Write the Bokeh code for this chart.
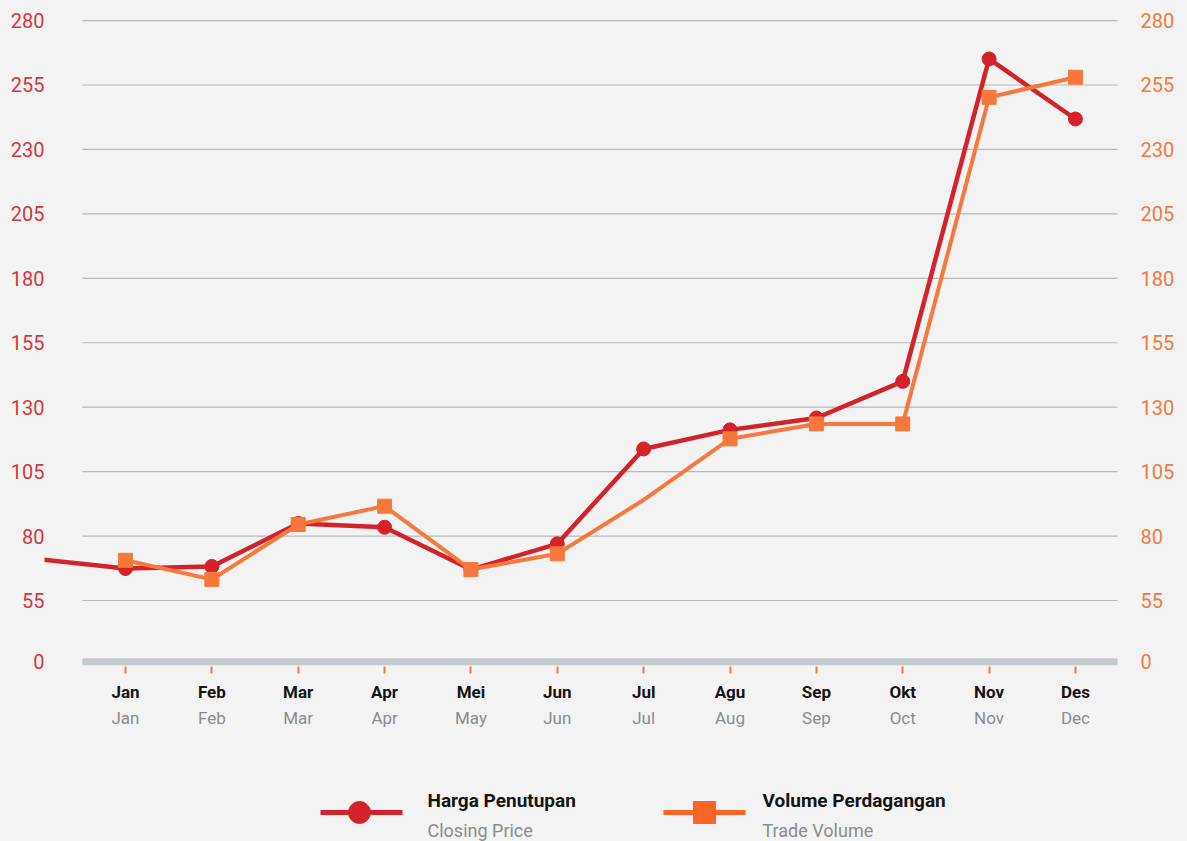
from bokeh.plotting import figure
from bokeh.layouts import column
from bokeh.models import (ColumnDataSource, FixedTicker, LinearAxis, CDSView, IndexFilter, Range1d)
from bokeh.core.properties import value
from bokeh.embed import file_html
from bokeh.resources import INLINE

# ---------------- data ----------------
months_id = ["Jan", "Feb", "Mar", "Apr", "Mei", "Jun", "Jul", "Agu", "Sep", "Okt", "Nov", "Des"]
months_en = ["Jan", "Feb", "Mar", "Apr", "May", "Jun", "Jul", "Aug", "Sep", "Oct", "Nov", "Dec"]
prev_dec_close = 71.0  # closing price of the previous December (line enters from the left)
closing_price = [67.4, 68.2, 84.9, 83.4, 67.0, 77.0, 113.8, 121.2, 125.8, 140.0, 265.1, 241.8]
trade_volume = [70.6, 63.2, 84.5, 91.6, 67.0, 73.1, 94.0, 117.7, 123.5, 123.5, 250.2, 258.0]
volume_marker_idx = [0, 1, 2, 3, 4, 5, 7, 8, 9, 10, 11]  # no marker on Jul
tick_values = [0, 55, 80, 105, 130, 155, 180, 205, 230, 255, 280]
series_titles = ["Harga Penutupan", "Volume Perdagangan"]
series_subtitles = ["Closing Price", "Trade Volume"]
ZERO_POS = 31.25  # axis break: the 0 tick sits closer than linear

def ypos(v):
    return ZERO_POS if v == 0 else v

RED = "#d3222a"
ORANGE = "#f7783c"
RED_LBL = "#d6363d"
ORANGE_LBL = "#f07a43"
BG = "#f3f3f3"
FONT = "Roboto"
W = 1187
H_MAIN = 770
H_LEG = 71
FR_L, FR_R = 44, 1117  # frame edges in page pixels

xi = list(range(len(months_id)))
red_src = ColumnDataSource(dict(x=[-1] + xi, y=[prev_dec_close] + closing_price))
red_pts = ColumnDataSource(dict(x=xi, y=closing_price))
org_src = ColumnDataSource(dict(x=xi, y=trade_volume))

p = figure(width=W, height=H_MAIN, output_backend="svg", toolbar_location=None,
           x_range=Range1d(-0.938, 11.487), y_range=Range1d(29.39, 283.9),
           x_axis_location=None, y_axis_location=None,
           background_fill_color=BG, border_fill_color=BG, outline_line_color=None,
           min_border_left=FR_L, min_border_right=W - FR_R, min_border_top=10,
           min_border_bottom=H_MAIN - 666)
p.grid.visible = False

# grid lines and base band
grid_y = [ypos(v) for v in tick_values if v != 0]
p.segment(x0=[-0.5] * len(grid_y), x1=[11.5] * len(grid_y), y0=grid_y, y1=grid_y,
          line_color="#b9b9b9", line_width=1.2)
p.segment(x0=[-0.5], x1=[11.5], y0=[ypos(0)], y1=[ypos(0)], line_color="#c4c9d0",
          line_width=7, line_cap="butt")

# series
rl = p.line("x", "y", source=red_src, line_color=RED, line_width=4.5, line_join="round")
rs = p.scatter("x", "y", source=red_pts, marker="circle", size=14, fill_color=RED, line_color=RED)
ol = p.line("x", "y", source=org_src, line_color=ORANGE, line_width=4, line_join="round")
os_ = p.scatter("x", "y", source=org_src, view=CDSView(filter=IndexFilter(volume_marker_idx)),
                marker="square", size=14, fill_color=ORANGE, line_color=ORANGE)

# y axes
yticks = FixedTicker(ticks=[ypos(v) for v in tick_values], minor_ticks=[])
yover = {ypos(v): str(v) for v in tick_values}
for side, color, stand in (("left", RED_LBL, 0), ("right", ORANGE_LBL, 23)):
    ax = LinearAxis(ticker=yticks, major_label_overrides=yover)
    ax.axis_line_color = None
    ax.major_tick_line_color = None
    ax.major_tick_out = 0
    ax.major_tick_in = 0
    ax.minor_tick_line_color = None
    ax.minor_tick_out = 0
    ax.major_label_text_color = color
    ax.major_label_text_font = FONT
    ax.major_label_text_font_size = "20px"
    ax.major_label_standoff = stand
    p.add_layout(ax, side)

# x axes (two label rows)
xticks = FixedTicker(ticks=xi, minor_ticks=[])
xa1 = LinearAxis(ticker=xticks, major_label_overrides={i: m for i, m in zip(xi, months_id)})
xa1.axis_line_color = None
xa1.major_tick_out = 7
xa1.major_tick_in = 0
xa1.major_tick_line_color = ORANGE
xa1.major_tick_line_width = 2
xa1.minor_tick_line_color = None
xa1.major_label_text_font = FONT
xa1.major_label_text_font_style = "bold"
xa1.major_label_text_font_size = "17px"
xa1.major_label_text_color = "#141414"
xa1.major_label_standoff = 8
p.add_layout(xa1, "below")

xa2 = LinearAxis(ticker=xticks, major_label_overrides={i: m for i, m in zip(xi, months_en)})
xa2.axis_line_color = None
xa2.major_tick_line_color = None
xa2.major_tick_out = 0
xa2.major_tick_in = 0
xa2.minor_tick_line_color = None
xa2.minor_tick_out = 0
xa2.major_label_text_font = FONT
xa2.major_label_text_font_size = "17px"
xa2.major_label_text_color = "#8c8c8c"
xa2.major_label_standoff = 3
p.add_layout(xa2, "below")

# legend strip (page-pixel coordinates; its frame is aligned with the chart frame)
lg = figure(width=W, height=H_LEG, output_backend="svg", toolbar_location=None,
            x_range=Range1d(FR_L, FR_R), y_range=Range1d(H_MAIN + H_LEG, H_MAIN),
            x_axis_location=None, y_axis_location=None,
            background_fill_color=BG, border_fill_color=BG, outline_line_color=None,
            min_border_left=FR_L, min_border_right=W - FR_R, min_border_top=0,
            min_border_bottom=0)
lg.grid.visible = False
sw_x0 = [320, 663]
sw_x1 = [402, 745]
sw_y = [812, 812]
lbl_x = [427, 762]
colors = [RED, "#fb6424"]
lg.segment(x0=sw_x0, x1=sw_x1, y0=sw_y, y1=sw_y, line_color=colors, line_width=5)
lg.scatter(x=[359, 704], y=sw_y, marker=["circle", "square"],
           size=22, fill_color=colors, line_color=colors)
lg.text(x=lbl_x, y=[800, 800], text=series_titles, text_font=value(FONT),
        text_font_style="bold", text_font_size="19px", text_color="#141414",
        text_baseline="middle", text_align="left")
lg.text(x=lbl_x, y=[830, 830], text=series_subtitles, text_font=value(FONT),
        text_font_size="18px", text_color="#8c8c8c", text_baseline="middle", text_align="left")

layout = column(p, lg, spacing=0, styles={"background-color": BG})
open("out.html", "w").write(file_html(layout, INLINE))
